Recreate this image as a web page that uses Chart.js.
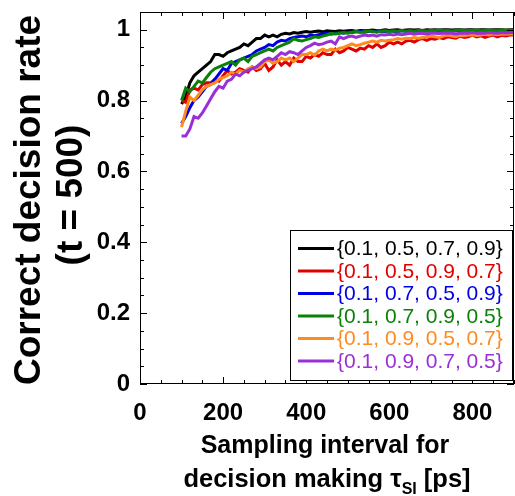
<!DOCTYPE html>
<html>
<head>
<meta charset="utf-8">
<script src="https://cdn.jsdelivr.net/npm/chart.js@4/dist/chart.umd.min.js"></script>
<style>
  html, body { margin: 0; padding: 0; background: #fff; }
  #wrap { width: 515px; height: 496px; }
</style>
</head>
<body>
<div id="wrap"><canvas id="c" width="515" height="496"></canvas></div>
<script>
// Sampling interval (ps)
const intervals = [
  100,110,120,130,140,150,160,170,180,190,
  200,210,220,230,240,250,260,270,280,290,
  300,310,320,330,340,350,360,370,380,390,
  400,410,420,430,440,450,460,470,480,490,
  500,510,520,530,540,550,560,570,580,590,
  600,610,620,630,640,650,660,670,680,690,
  700,710,720,730,740,750,760,770,780,790,
  800,810,820,830,840,850,860,870,880,890,
  900
];

// Correct decision rate at t = 500 for each probability ordering
const rate_05_07_09 = [
  0.79,0.81,0.85,0.87,0.88,0.89,0.90,0.91,0.93,0.93,
  0.925,0.935,0.94,0.945,0.95,0.96,0.955,0.965,0.975,0.975,
  0.985,0.98,0.985,0.98,0.987,0.99,0.988,0.992,0.99,0.993,
  0.995,0.993,0.995,0.996,0.994,0.997,0.996,0.995,0.997,0.996,
  0.997,0.998,0.996,0.998,0.997,0.998,0.999,0.997,0.998,1.0,
  0.998,0.999,1.0,0.998,0.999,1.0,0.999,1.0,0.998,1.0,
  0.999,1.0,0.999,1.0,1.0,0.999,1.0,1.0,0.999,1.0,
  1.0,0.999,1.0,1.0,0.999,1.0,1.0,1.0,0.999,1.0,
  1.0
];
const rate_05_09_07 = [
  0.80,0.795,0.83,0.835,0.83,0.845,0.85,0.85,0.86,0.855,
  0.87,0.885,0.875,0.88,0.89,0.885,0.88,0.895,0.885,0.89,
  0.905,0.885,0.895,0.915,0.90,0.91,0.90,0.92,0.91,0.91,
  0.925,0.92,0.93,0.925,0.935,0.93,0.93,0.945,0.935,0.94,
  0.95,0.945,0.94,0.948,0.945,0.955,0.95,0.96,0.95,0.955,
  0.965,0.96,0.965,0.96,0.968,0.97,0.965,0.972,0.975,0.97,
  0.975,0.973,0.978,0.975,0.98,0.978,0.976,0.982,0.978,0.98,
  0.985,0.98,0.983,0.978,0.982,0.985,0.98,0.984,0.982,0.985,
  0.985
];
const rate_07_05_09 = [
  0.735,0.755,0.78,0.80,0.81,0.825,0.84,0.845,0.86,0.875,
  0.89,0.885,0.905,0.91,0.915,0.92,0.925,0.93,0.94,0.945,
  0.95,0.958,0.955,0.965,0.97,0.968,0.975,0.978,0.98,0.982,
  0.98,0.985,0.983,0.986,0.988,0.99,0.987,0.99,0.992,0.99,
  0.993,0.992,0.994,0.995,0.993,0.995,0.996,0.994,0.996,0.995,
  0.997,0.996,0.995,0.997,0.996,0.998,0.997,0.996,0.998,0.997,
  0.996,0.998,0.997,0.998,0.996,0.997,0.998,0.997,0.998,0.997,
  0.998,0.997,0.998,0.996,0.998,0.997,0.998,0.997,0.998,0.997,
  0.998
];
const rate_07_09_05 = [
  0.80,0.835,0.825,0.84,0.855,0.85,0.865,0.88,0.89,0.895,
  0.90,0.905,0.91,0.90,0.915,0.92,0.91,0.925,0.93,0.935,
  0.94,0.945,0.94,0.95,0.955,0.96,0.965,0.975,0.97,0.968,
  0.972,0.975,0.98,0.978,0.982,0.985,0.99,0.988,0.99,0.992,
  0.99,0.993,0.995,0.992,0.994,0.996,0.995,0.993,0.996,0.997,
  0.995,0.997,0.996,0.998,0.996,0.997,0.995,0.998,0.997,0.996,
  0.998,0.997,0.999,0.997,0.998,0.996,0.998,0.999,0.997,0.998,
  0.998,0.999,0.997,0.998,0.999,0.998,0.997,0.999,0.998,0.999,
  0.998
];
const rate_09_05_07 = [
  0.725,0.77,0.81,0.80,0.815,0.83,0.84,0.845,0.85,0.86,
  0.865,0.87,0.88,0.875,0.885,0.88,0.89,0.895,0.89,0.895,
  0.91,0.915,0.905,0.91,0.92,0.915,0.92,0.91,0.92,0.93,
  0.93,0.935,0.928,0.94,0.945,0.94,0.945,0.942,0.948,0.95,
  0.955,0.96,0.955,0.958,0.962,0.965,0.968,0.965,0.97,0.968,
  0.97,0.972,0.975,0.973,0.976,0.975,0.978,0.976,0.978,0.98,
  0.982,0.98,0.978,0.982,0.985,0.982,0.98,0.984,0.983,0.985,
  0.986,0.984,0.985,0.987,0.985,0.988,0.986,0.988,0.987,0.988,
  0.988
];
const rate_09_07_05 = [
  0.70,0.70,0.72,0.755,0.75,0.765,0.785,0.805,0.825,0.84,
  0.835,0.855,0.86,0.875,0.87,0.88,0.885,0.89,0.895,0.905,
  0.915,0.92,0.915,0.925,0.935,0.93,0.938,0.935,0.93,0.94,
  0.95,0.955,0.962,0.958,0.96,0.965,0.968,0.96,0.98,0.975,
  0.98,0.982,0.978,0.982,0.985,0.983,0.985,0.982,0.986,0.985,
  0.987,0.985,0.988,0.986,0.988,0.99,0.987,0.989,0.99,0.988,
  0.99,0.99,0.989,0.99,0.991,0.99,0.988,0.99,0.991,0.99,
  0.992,0.99,0.991,0.99,0.992,0.991,0.99,0.992,0.991,0.992,
  0.992
];

const seriesNames = [
  '{0.1, 0.5, 0.7, 0.9}',
  '{0.1, 0.5, 0.9, 0.7}',
  '{0.1, 0.7, 0.5, 0.9}',
  '{0.1, 0.7, 0.9, 0.5}',
  '{0.1, 0.9, 0.5, 0.7}',
  '{0.1, 0.9, 0.7, 0.5}'
];
const seriesValues = [rate_05_07_09, rate_05_09_07, rate_07_05_09, rate_07_09_05, rate_09_05_07, rate_09_07_05];
const seriesColors = ['#000000', '#e00000', '#0000e6', '#0a820a', '#ff8a1e', '#9a2fd8'];

const xTickValues = [0, 200, 400, 600, 800];
const yTickValues = [0, 0.2, 0.4, 0.6, 0.8, 1];
const xMinorStep = 50;
const yMinorStep = 0.05;

const FONT = "'Liberation Sans', Arial, Helvetica, sans-serif";

const datasets = seriesValues.map((vals, i) => ({
  label: seriesNames[i],
  data: vals.map((v, k) => ({ x: intervals[k], y: v })),
  borderColor: seriesColors[i],
  backgroundColor: seriesColors[i],
  borderWidth: 3,
  pointRadius: 0,
  tension: 0,
  fill: false,
  order: seriesValues.length - i
}));

// Frame, inward ticks, legend and axis titles
const decorations = {
  id: 'decorations',
  afterDraw(chart) {
    const ctx = chart.ctx;
    const a = chart.chartArea;
    const xs = chart.scales.x, ys = chart.scales.y;
    ctx.save();

    // ticks on all four sides, pointing into the plot
    ctx.strokeStyle = '#000';
    ctx.lineWidth = 1;
    ctx.beginPath();
    for (let v = xs.min; v <= xs.max + 1e-9; v += xMinorStep) {
      const px = Math.round(xs.getPixelForValue(v)) + 0.5;
      const len = xTickValues.includes(v) ? 7 : 4;
      ctx.moveTo(px, a.bottom); ctx.lineTo(px, a.bottom - len);
      ctx.moveTo(px, a.top); ctx.lineTo(px, a.top + len);
    }
    for (let k = 0; k * yMinorStep <= ys.max + 1e-9; k++) {
      const v = +(k * yMinorStep).toFixed(2);
      const py = Math.round(ys.getPixelForValue(v)) + 0.5;
      const len = yTickValues.some(t => Math.abs(t - v) < 1e-9) ? 7 : 4;
      ctx.moveTo(a.left, py); ctx.lineTo(a.left + len, py);
      ctx.moveTo(a.right, py); ctx.lineTo(a.right - len, py);
    }
    ctx.stroke();

    // plot frame
    ctx.strokeRect(Math.round(a.left) + 0.5, Math.round(a.top) + 0.5,
                   Math.round(a.right - a.left) - 1, Math.round(a.bottom - a.top) - 1);

    // legend box
    const lx = 290.5, ly = 230.5, lw = 222, lh = 150;
    ctx.fillStyle = '#fff';
    ctx.fillRect(lx, ly, lw, lh);
    ctx.strokeRect(lx, ly, lw, lh);
    ctx.font = '21px ' + FONT;
    ctx.textBaseline = 'middle';
    ctx.textAlign = 'left';
    chart.data.datasets.forEach((ds, i) => {
      const cy = 248.5 + i * 22.5;
      ctx.strokeStyle = ds.borderColor;
      ctx.lineWidth = 3;
      ctx.beginPath();
      ctx.moveTo(298, cy); ctx.lineTo(334, cy);
      ctx.stroke();
      ctx.fillStyle = ds.borderColor;
      ctx.fillText(ds.label, 337, cy + 1);
    });

    // y-axis title (two rotated lines)
    ctx.fillStyle = '#000';
    ctx.font = 'bold 37px ' + FONT;
    ctx.textAlign = 'center';
    ctx.textBaseline = 'alphabetic';
    ctx.save();
    ctx.translate(40, 200);
    ctx.rotate(-Math.PI / 2);
    ctx.fillText('Correct decision rate', 0, 0);
    ctx.restore();
    ctx.save();
    ctx.translate(82, 195);
    ctx.rotate(-Math.PI / 2);
    ctx.fillText('(t = 500)', 0, 0);
    ctx.restore();

    // x-axis title with subscript
    const cx = (a.left + a.right) / 2;
    ctx.font = 'bold 25px ' + FONT;
    ctx.fillText('Sampling interval for', cx - 2, 453);
    const p1 = 'decision making \u03C4', sub = 'SI', p2 = ' [ps]';
    ctx.font = 'bold 25.5px ' + FONT;
    const w1 = ctx.measureText(p1).width, w2 = ctx.measureText(p2).width;
    ctx.font = 'bold 16px ' + FONT;
    const ws = ctx.measureText(sub).width;
    let x0 = cx - (w1 + ws + w2) / 2;
    ctx.textAlign = 'left';
    ctx.font = 'bold 25.5px ' + FONT;
    ctx.fillText(p1, x0, 487);
    ctx.font = 'bold 16px ' + FONT;
    ctx.fillText(sub, x0 + w1, 494);
    ctx.font = 'bold 25.5px ' + FONT;
    ctx.fillText(p2, x0 + w1 + ws, 487);

    ctx.restore();
  }
};

const zeroPadding = (s) => { s.paddingTop = 0; s.paddingBottom = 0; s.paddingLeft = 0; s.paddingRight = 0; };

new Chart(document.getElementById('c'), {
  type: 'line',
  data: { datasets },
  options: {
    responsive: false,
    animation: false,
    devicePixelRatio: 1,
    layout: { padding: { top: 12, right: 1, left: 0, bottom: 0 } },
    plugins: { legend: { display: false }, tooltip: { enabled: false } },
    scales: {
      x: {
        type: 'linear',
        min: 0, max: 900,
        grid: { display: false, drawTicks: false },
        border: { display: false },
        afterBuildTicks: (s) => { s.ticks = xTickValues.map(v => ({ value: v })); },
        afterFit: (s) => { s.height = 112; zeroPadding(s); },
        ticks: {
          padding: 15,
          color: '#000',
          maxRotation: 0,
          font: { family: FONT, size: 24, weight: 'bold' },
          callback: (v) => String(v)
        }
      },
      y: {
        min: 0, max: 1.05,
        grid: { display: false, drawTicks: false },
        border: { display: false },
        afterBuildTicks: (s) => { s.ticks = yTickValues.map(v => ({ value: v })); },
        afterFit: (s) => { s.width = 140; zeroPadding(s); },
        ticks: {
          padding: 10,
          color: '#000',
          font: { family: FONT, size: 24, weight: 'bold' },
          callback: (v) => String(+v.toFixed(1))
        }
      }
    }
  },
  plugins: [decorations]
});
</script>
</body>
</html>
